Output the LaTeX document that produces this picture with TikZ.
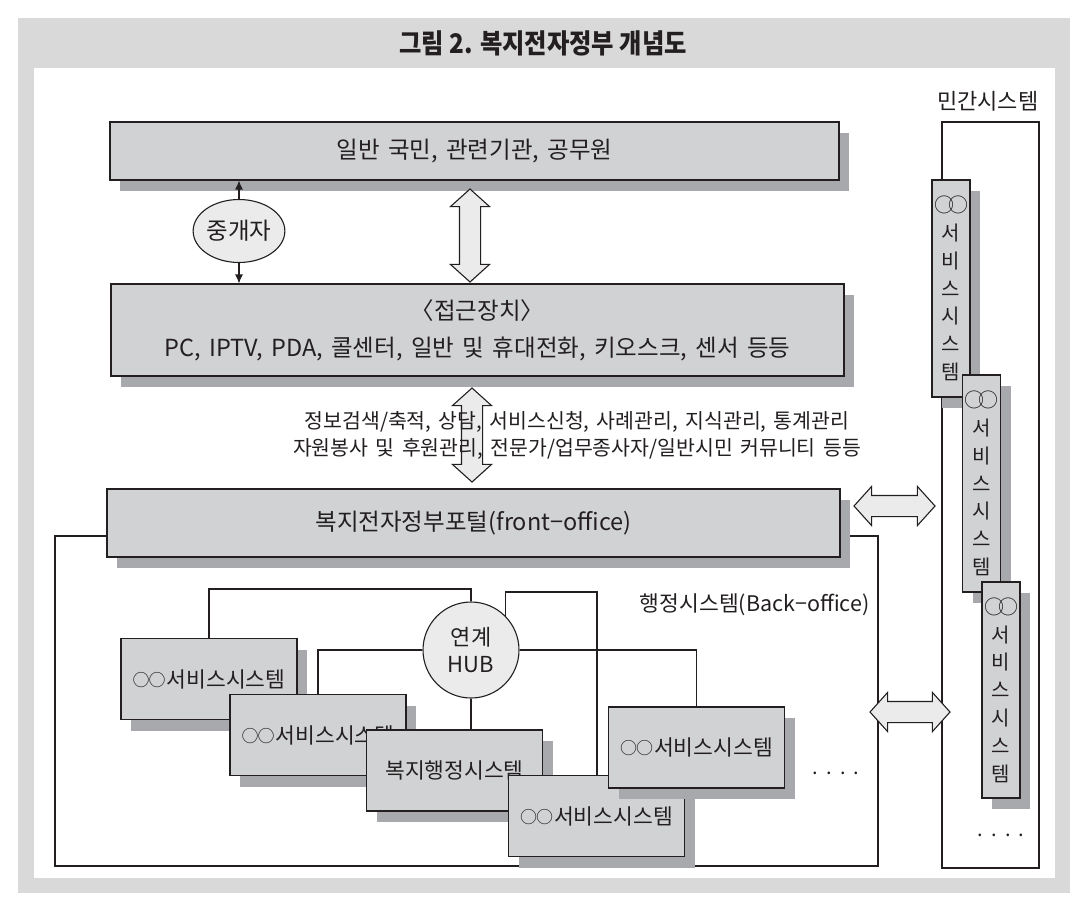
\documentclass[tikz,border=0pt]{standalone}
\usepackage{fontspec}
\setmainfont{Noto Sans CJK KR}[WordSpace=1.6]
\newfontfamily\titlefont{Noto Sans CJK KR}[FakeStretch=0.9]
\usetikzlibrary{shapes.geometric,shapes.arrows,shadows,arrows.meta}
\definecolor{bggrey}{HTML}{D9D9D9}
\definecolor{boxgrey}{HTML}{D1D2D4}
\definecolor{shadowgrey}{HTML}{A7A9AC}
\definecolor{lightfill}{HTML}{EBEBEC}
\definecolor{ink}{HTML}{231F20}
\pgfdeclarelayer{back}
\pgfdeclarelayer{wires}
\pgfsetlayers{back,wires,main}
\newcommand\hcirc{\raisebox{1pt}{\fontsize{17}{17}\selectfont ○\kern-1pt○}\kern1pt}
\newcommand\vcirc{{\fontsize{20}{20}\selectfont ○\kern-6pt○}}
\begin{document}
\begin{tikzpicture}[x=1pt,y=-1pt,
  every node/.style={text=ink},
  line/.style={draw=ink, line width=1.1pt},
  gbox/.style={draw=ink, line width=1.1pt, fill=boxgrey, inner sep=0pt,
    drop shadow={shadow xshift=10pt, shadow yshift=-11pt, fill=shadowgrey, opacity=1}},
  bigtxt/.style={font=\fontsize{23.5}{37}\selectfont},
  midtxt/.style={font=\fontsize{20.5}{27}\selectfont},
  systxt/.style={font=\fontsize{21.5}{26}\selectfont},
  vtxt/.style={font=\fontsize{20}{27.8}\selectfont},
  sysbox/.style={gbox, systxt, minimum width=176pt, minimum height=81pt},
  vbox/.style={gbox, vtxt, align=center, minimum width=38pt, minimum height=217pt},
  darrow/.style={double arrow, draw=ink, fill=lightfill, line width=1.1pt,
    inner xsep=0pt, inner ysep=10pt, double arrow head extend=9pt,
    double arrow tip angle=96},
  smallarrow/.style={line, -{Latex[length=9pt,width=8pt]}}
]
\useasboundingbox (0,0) rectangle (1087,898);
\begin{pgfonlayer}{back}
  \fill[bggrey] (18,18) rectangle (1070,893);
  \fill[white] (34,68) rectangle (1055,878);
  \draw[line] (55,536) rectangle (878,866);
  \draw[line] (942,122) rectangle (1039,868);
\end{pgfonlayer}

% title
\node[font=\fontsize{27}{32}\selectfont] (title) at (543,43) {\titlefont\bfseries 그림 2. 복지전자정부 개념도};

% main boxes
\node[gbox, bigtxt, minimum width=729pt, minimum height=58pt] (pub) at (474.5,151) {일반 국민, 관련기관, 공무원};
\node[gbox, bigtxt, align=center, minimum width=733pt, minimum height=92pt] (acc) at (477.5,330) {〈접근장치〉\\PC, IPTV, PDA, 콜센터, 일반 및 휴대전화, 키오스크, 센서 등등};
\node[gbox, bigtxt, minimum width=733pt, minimum height=68pt] (portal) at (473.5,523) {복지전자정부포털(front−office)};

% intermediary
\node[ellipse, draw=ink, line width=1.1pt, fill=lightfill, inner sep=0pt, minimum width=82pt, minimum height=63pt, bigtxt] (med) at (239,231) {중개자};
\draw[smallarrow] (med.north) -- (med.north |- pub.south);
\draw[smallarrow] (med.south) -- (med.south |- acc.north);

% block arrows
\node[darrow, rotate=90, minimum height=93pt] (a1) at (470,235.5) {};
\node[darrow, rotate=90, minimum height=94pt] (a2) at (472,435) {};
\node[darrow, minimum height=81pt] (a3) at (894.5,506) {};
\node[darrow, minimum height=80pt] (a4) at (910,712) {};

\node[midtxt, align=center] (svc) at (577,435.5) {정보검색/축적, 상담, 서비스신청, 사례관리, 지식관리, 통계관리\\자원봉사 및 후원관리, 전문가/업무종사자/일반시민 커뮤니티 등등};

% back office
\node[font=\fontsize{21.5}{26}\selectfont, anchor=east] (bo) at (873,605) {행정시스템(Back−office)};

\node[sysbox] (b1) at (209,679) {\hcirc 서비스시스템};
\node[sysbox] (b2) at (318,735) {\hcirc 서비스시스템};
\node[sysbox] (b3) at (454.5,770.5) {복지행정시스템};
\node[sysbox] (b4) at (596.5,816) {\hcirc 서비스시스템};
\node[sysbox] (b5) at (696.5,747.5) {\hcirc 서비스시스템};

\node[circle, draw=ink, line width=1.1pt, fill=lightfill, inner sep=0pt, minimum size=96pt, align=center, font=\fontsize{22}{27}\selectfont] (hub) at (471,650) {연계\\HUB};

\node[font=\fontsize{20}{20}\selectfont, anchor=base] (dots1) at (836,774) {.\hspace{8pt}.\hspace{8pt}.\hspace{8pt}.};

\begin{pgfonlayer}{wires}
  \coordinate (k1) at (471,589);
  \coordinate (k2) at (597,592);
  \draw[line] (b1.north) |- (k1) -- (hub.north);
  \draw[line] (hub.north east) |- (k2) -- (k2 |- b4.north);
  \draw[line] (hub.west) -| (b2.north);
  \draw[line] (hub.east) -| (b5.north);
  \draw[line] (hub.south) -- (hub.south |- b3.north);
\end{pgfonlayer}

% private systems
\node[font=\fontsize{22}{26}\selectfont, anchor=east] (priv) at (1042,101) {민간시스템};
\node[vbox] (r1) at (951,288.5) {\vcirc\\서\\비\\스\\시\\스\\템};
\node[vbox] (r2) at (981.5,483.5) {\vcirc\\서\\비\\스\\시\\스\\템};
\node[vbox, minimum height=216pt] (r3) at (1001,690) {\vcirc\\서\\비\\스\\시\\스\\템};
\node[font=\fontsize{20}{20}\selectfont, anchor=base] (dots2) at (1001,836) {.\hspace{8pt}.\hspace{8pt}.\hspace{8pt}.};
\end{tikzpicture}
\end{document}
